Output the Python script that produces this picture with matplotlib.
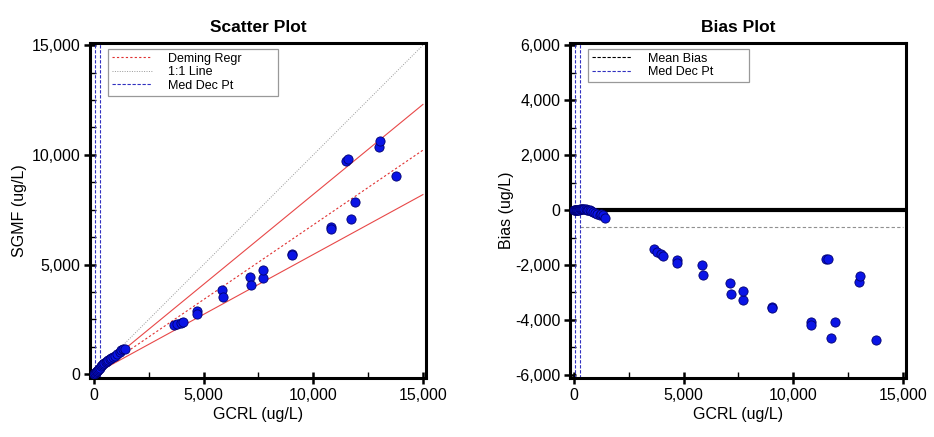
import numpy as np
import matplotlib
matplotlib.use('Agg')
import matplotlib.pyplot as plt
from matplotlib.ticker import MultipleLocator, FuncFormatter

plt.rcParams['font.family'] = ['Liberation Sans', 'DejaVu Sans']

# data (ug/L)
gcrl = np.array([15, 40, 70, 100, 130, 160, 200, 240, 280, 330, 380, 430, 480,
                 540, 600, 660, 720, 790, 860, 940, 1040, 1190, 1240, 1340, 1410,
                 3650, 3800, 3950, 4050, 4690, 4690, 5850, 5890, 7110, 7150,
                 7700, 7720, 9020, 9030, 10790, 10790, 11510, 11580, 11730,
                 11900, 12980, 13030, 13790])
sgmf = np.array([15, 42, 72, 104, 135, 165, 205, 250, 300, 355, 405, 455, 505,
                 560, 615, 665, 710, 755, 790, 820, 910, 1010, 1090, 1155, 1135,
                 2250, 2280, 2340, 2370, 2890, 2770, 3850, 3510, 4450, 4090,
                 4410, 4770, 5480, 5450, 6720, 6600, 9720, 9790, 7080,
                 7830, 10350, 10620, 9050])
bias = sgmf - gcrl

deming_slope = 0.681
ci_slopes = [0.82, 0.546]
med_dec_pts = [30, 280]
mean_bias = -600

fmt = FuncFormatter(lambda v, p: '{:,.0f}'.format(v))


def style_axes(ax, ymin, ymax, ymaj, ymin_step):
    for s in ax.spines.values():
        s.set_linewidth(2.2)
    ax.xaxis.set_major_locator(MultipleLocator(5000))
    ax.xaxis.set_minor_locator(MultipleLocator(2500))
    ax.yaxis.set_major_locator(MultipleLocator(ymaj))
    ax.yaxis.set_minor_locator(MultipleLocator(ymin_step))
    ax.xaxis.set_major_formatter(fmt)
    ax.yaxis.set_major_formatter(fmt)
    ax.tick_params(which='major', direction='inout', length=8, width=1.8,
                   labelsize=11.5, pad=3)
    ax.tick_params(which='minor', direction='in', length=4, width=1)
    ax.set_xlim(-180, 15140)
    ax.set_ylim(ymin, ymax)
    ax.set_xlabel('GCRL (ug/L)', fontsize=11.5, labelpad=3)


def make_legend(ax, width):
    leg = ax.legend(loc='upper left', bbox_to_anchor=(0.054, 0.0, width, 0.982),
                    mode='expand', fontsize=9, frameon=True, fancybox=False,
                    edgecolor='#808080', handlelength=3.2, handletextpad=1.3,
                    borderpad=0.3, labelspacing=0.12, borderaxespad=0)
    leg.get_frame().set_linewidth(0.9)
    return leg


fig = plt.figure(figsize=(9.34, 4.37), dpi=100)
ax1 = fig.add_axes([90 / 934, 59 / 437, 336 / 934, 335 / 437])
ax2 = fig.add_axes([570 / 934, 59 / 437, 336 / 934, 335 / 437])

# scatter plot
xl = np.array([0, 15000])
ax1.plot(xl, xl * deming_slope, color='#e03030', lw=0.8, ls=(0, (2, 2)),
         label='Deming Regr')
for s in ci_slopes:
    ax1.plot(xl, xl * s, color='#e84848', lw=0.8)
ax1.plot(xl, xl, color='#999999', lw=0.7, ls=(0, (1, 1.5)), label='1:1 Line')
for i, m in enumerate(med_dec_pts):
    ax1.axvline(m, color='#3030c0', lw=0.8, ls=(0, (3, 1.5)),
                label='Med Dec Pt' if i == 0 else None)
ax1.scatter(gcrl, sgmf, s=44, color='#0a14e6', edgecolor='#000070',
            linewidth=0.6, zorder=5)
style_axes(ax1, -170, 15100, 5000, 1250)
ax1.set_ylabel('SGMF (ug/L)', fontsize=11.5, labelpad=3)
ax1.set_title('Scatter Plot', fontsize=12.5, fontweight='bold', pad=8)
make_legend(ax1, 0.506)

# bias plot
ax2.plot([-180, 15000], [0, 0], color='black', lw=3, zorder=3)
ax2.plot([280, 15000], [mean_bias, mean_bias], color='#909090', lw=0.8,
         ls=(0, (3, 2)))
ax2.plot([], [], color='black', lw=0.8, ls=(0, (3, 1.5)), label='Mean Bias')
for i, m in enumerate(med_dec_pts):
    ax2.axvline(m, color='#3030c0', lw=0.8, ls=(0, (3, 1.5)),
                label='Med Dec Pt' if i == 0 else None)
ax2.scatter(gcrl, bias, s=44, color='#0a14e6', edgecolor='#000070',
            linewidth=0.6, zorder=5)
style_axes(ax2, -6110, 6075, 2000, 1000)
ax2.set_ylabel('Bias (ug/L)', fontsize=11.5, labelpad=1)
ax2.set_title('Bias Plot', fontsize=12.5, fontweight='bold', pad=8)
make_legend(ax2, 0.479)

fig.savefig('out.png', dpi=100)
